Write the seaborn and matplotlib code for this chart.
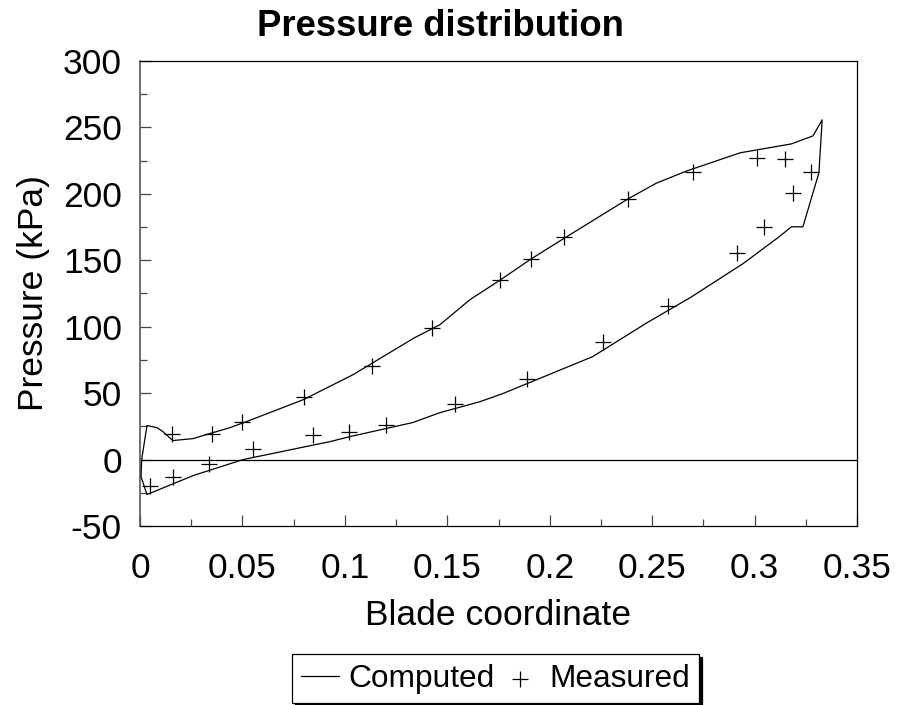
import matplotlib
matplotlib.use("Agg")
import matplotlib.pyplot as plt
import seaborn as sns
import pandas as pd
from matplotlib.ticker import MultipleLocator, FixedLocator

# ---- data ----
computed_x = [0.0008, 0.0034, 0.0083, 0.0112, 0.016, 0.026, 0.0356, 0.0439, 0.052,
              0.0796, 0.104, 0.134, 0.1464, 0.161, 0.1757, 0.1909, 0.207, 0.238,
              0.252, 0.267, 0.293, 0.318, 0.3285, 0.333,
              0.3314, 0.3236, 0.318, 0.3114, 0.2943, 0.2685, 0.2475, 0.221, 0.177,
              0.166, 0.1464, 0.133, 0.1025, 0.0927, 0.0503, 0.026, 0.0034, 0.0005, 0.0008]
computed_y = [0, 25.6, 24, 21, 14.3, 15.8, 20.3, 24, 28.6,
              45, 63.9, 91.7, 101.5, 120.3, 135, 151, 166.5, 196,
              208, 217.3, 230.9, 237.6, 243.6, 255.7,
              215.8, 175.2, 175.2, 167, 147.4, 121.8, 103, 77.5, 49.6,
              43.6, 35.3, 27.8, 17.3, 13.5, 0, -12, -26.3, -13, 0]

measured_x = [0.0049, 0.0156, 0.0161, 0.0337, 0.0351, 0.0498, 0.0552, 0.080, 0.0844,
              0.102, 0.1132, 0.120, 0.1425, 0.1538, 0.1757, 0.189, 0.1909, 0.207,
              0.226, 0.238, 0.2577, 0.27, 0.2914, 0.301, 0.3046, 0.315, 0.319, 0.3275]
measured_y = [-20, 19.5, -13.3, -3.3, 19.5, 28.3, 8, 47.4, 18.8,
              21, 70.7, 26.3, 99.3, 42.1, 135.4, 61, 151, 167.7,
              88.7, 196.3, 115.8, 216.6, 155.7, 227, 175, 226, 200.8, 216.6]

x_ticks = [0, 0.05, 0.1, 0.15, 0.2, 0.25, 0.3, 0.35]
x_tick_labels = ["0", "0.05", "0.1", "0.15", "0.2", "0.25", "0.3", "0.35"]
y_ticks = [-50, 0, 50, 100, 150, 200, 250, 300]
y_tick_labels = ["-50", "0", "50", "100", "150", "200", "250", "300"]

title = "Pressure distribution"
x_label = "Blade coordinate"
y_label = "Pressure (kPa)"

# ---- style ----
sns.set_style("white")
plt.rcParams["font.family"] = ["Liberation Sans", "DejaVu Sans"]
plt.rcParams["axes.unicode_minus"] = False
plt.rcParams["text.color"] = "black"
plt.rcParams["axes.labelcolor"] = "black"
plt.rcParams["xtick.color"] = "black"
plt.rcParams["ytick.color"] = "black"

fig = plt.figure(figsize=(8.97, 7.05), dpi=100)
ax = fig.add_axes([0.1561, 0.2539, 0.7993, 0.6596])

comp_df = pd.DataFrame({"x": computed_x, "y": computed_y})
meas_df = pd.DataFrame({"x": measured_x, "y": measured_y})

ax.axhline(0, color="black", lw=0.9, zorder=1)
sns.lineplot(data=comp_df, x="x", y="y", sort=False, estimator=None, color="black",
             lw=0.9, ax=ax, label="Computed", zorder=3)
sns.scatterplot(data=meas_df, x="x", y="y", marker="+", s=120, color="black",
                linewidth=0.9, ax=ax, label="Measured", zorder=4)

handles, labels = ax.get_legend_handles_labels()
if ax.get_legend() is not None:
    ax.get_legend().remove()

ax.set_xlim(0, 0.35)
ax.set_ylim(-50, 300)
ax.xaxis.set_major_locator(FixedLocator(x_ticks))
ax.set_xticklabels(x_tick_labels)
ax.yaxis.set_major_locator(FixedLocator(y_ticks))
ax.set_yticklabels(y_tick_labels)
ax.xaxis.set_minor_locator(MultipleLocator(0.025))
ax.yaxis.set_minor_locator(MultipleLocator(25))

ax.tick_params(axis="both", which="both", direction="in", top=False, right=False,
               bottom=True, left=True,
               colors="#444444", labelcolor="black", labelsize=25.5, width=0.9)
ax.tick_params(axis="x", which="major", length=8, pad=19)
ax.tick_params(axis="y", which="major", length=8, pad=13)
ax.tick_params(axis="both", which="minor", length=5)

for side in ["top", "right", "bottom"]:
    ax.spines[side].set_color("black")
    ax.spines[side].set_linewidth(0.9)
ax.spines["left"].set_color("#555555")
ax.spines["left"].set_linewidth(1.2)

ax.set_xlabel(x_label, fontsize=25.5, color="black")
ax.set_ylabel(y_label, fontsize=25.5, color="black")
ax.xaxis.set_label_coords(0.5, -0.158)
ax.yaxis.set_label_coords(-0.125, 0.5)

fig.text(440 / 897, 1 - 27 / 705, title, fontsize=26.3, fontweight="bold",
         ha="center", va="center", color="black")

leg = fig.legend(handles, labels, loc="center", bbox_to_anchor=(0.5524, 0.0369),
                 ncol=2, fontsize=22.8, frameon=True, fancybox=False,
                 shadow={"color": "black", "alpha": 1},
                 handlelength=1.2, handletextpad=0.3, columnspacing=0.2,
                 borderpad=0.3, borderaxespad=0)
leg.get_frame().set_edgecolor("black")
leg.get_frame().set_linewidth(0.9)
for t in leg.get_texts():
    t.set_color("black")

fig.savefig("out.png", dpi=100)
